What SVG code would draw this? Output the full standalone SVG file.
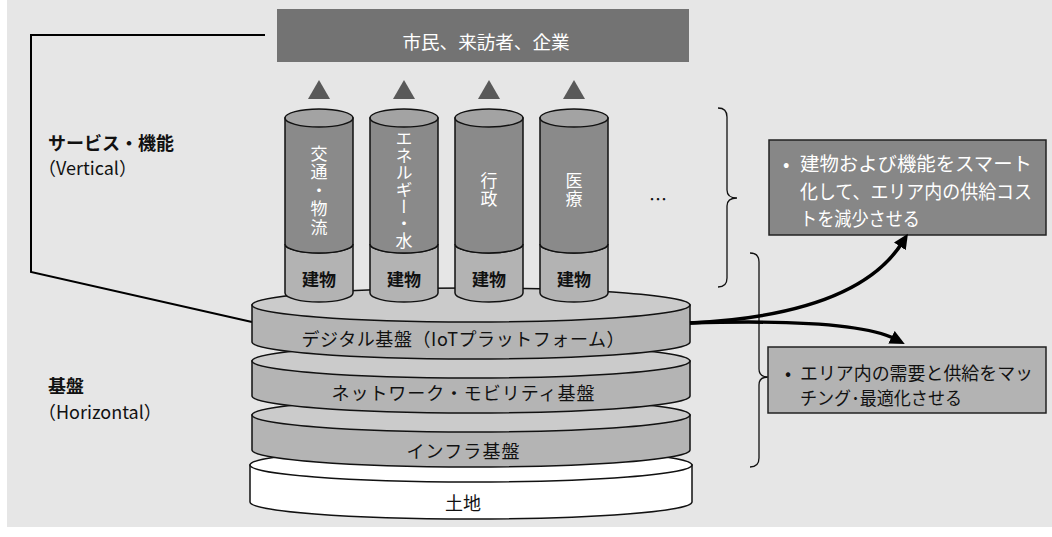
<svg xmlns="http://www.w3.org/2000/svg" width="1052" height="537" viewBox="0 0 1052 537">
<defs>
<style>
text{font-family:"Noto Sans CJK JP","Noto Sans",sans-serif;dominant-baseline:central}
.lbl{font-size:18px;font-weight:bold;fill:#111}
.disk-top{stroke:#111;stroke-width:1.5;fill:#cbcbcb}
.disk-side{stroke:#111;stroke-width:1.5;fill:#b4b4b4}
.land-top{stroke:#111;stroke-width:1.5;fill:#fff}
.land-side{stroke:#111;stroke-width:1.5;fill:#fff}
.disk-txt{font-size:18px;fill:#111;text-anchor:middle}
.cyl-top{fill:#a3a3a3;stroke:#111;stroke-width:1.5}
.cyl-body{fill:#8a8a8a;stroke:#111;stroke-width:1.5}
.cyl-base{fill:#b3b3b3;stroke:#111;stroke-width:1.5}
.vtxt{font-size:17px;fill:#fff;text-anchor:middle;writing-mode:vertical-rl}
.btxt{font-size:17px;font-weight:bold;fill:#111;text-anchor:middle}
.tri{fill:#595959}
.brace{fill:none;stroke:#111;stroke-width:1.3}
.conn{fill:none;stroke:#000;stroke-width:3.5}
</style>
<marker id="ah" markerUnits="userSpaceOnUse" markerWidth="16" markerHeight="14" refX="4" refY="7" orient="auto">
<path d="M0,0 L15,7 L0,14 z" fill="#000"/>
</marker>
</defs>
<rect x="7" y="0" width="1045" height="527" fill="#e6e6e6"/>

<g id="left-line">
<polyline points="265,35 31,35 31,272 252,322" fill="none" stroke="#000" stroke-width="2"/>
</g>

<g id="label-vertical">
<text class="lbl" x="48" y="142">サービス・機能</text>
<text x="38" y="167" font-size="18" fill="#111">（Vertical）</text>
</g>
<g id="label-horizontal">
<text class="lbl" x="48" y="385">基盤</text>
<text x="38" y="411" font-size="18" fill="#111">（Horizontal）</text>
</g>

<g id="users">
<rect x="277" y="9" width="412" height="53" fill="#737373"/>
<text x="486" y="41" font-size="18" fill="#fff" text-anchor="middle" textLength="167" lengthAdjust="spacingAndGlyphs">市民、来訪者、企業</text>
</g>

<g id="triangles">
<polygon class="tri" points="308,99 330,99 319,80"/>
<polygon class="tri" points="393,99 415,99 404,80"/>
<polygon class="tri" points="478,99 500,99 489,80"/>
<polygon class="tri" points="563,99 585,99 574,80"/>
</g>

<g id="land">
<path class="land-side" d="M250,465 L250,502 A221,17 0 0 0 692,502 L692,465 Z"/>
<ellipse class="land-top" cx="471" cy="465" rx="221" ry="17"/>
<text class="disk-txt" x="463" y="502">土地</text>
</g>
<g id="infra">
<path class="disk-side" d="M252,415 L252,450 A219,17 0 0 0 690,450 L690,415 Z"/>
<ellipse class="disk-top" cx="471" cy="415" rx="219" ry="17"/>
<text class="disk-txt" x="463" y="450" textLength="113">インフラ基盤</text>
</g>
<g id="network">
<path class="disk-side" d="M252,361 L252,396 A219,17 0 0 0 690,396 L690,361 Z"/>
<ellipse class="disk-top" cx="471" cy="361" rx="219" ry="17"/>
<text class="disk-txt" x="463" y="392" textLength="263">ネットワーク・モビリティ基盤</text>
</g>
<g id="digital">
<path class="disk-side" d="M252,305 L252,342 A219,17 0 0 0 690,342 L690,305 Z"/>
<ellipse class="disk-top" cx="471" cy="305" rx="219" ry="17"/>
<text class="disk-txt" x="463" y="338" textLength="323">デジタル基盤（IoTプラットフォーム）</text>
</g>

<g id="cyl-transport">
<path class="cyl-base" d="M285,244 A34,9 0 0 0 353,244 L353,293 A34,9 0 0 1 285,293 Z"/>
<path class="cyl-body" d="M285,118 L285,244 A34,9 0 0 0 353,244 L353,118 Z"/>
<ellipse class="cyl-top" cx="319" cy="118" rx="34" ry="9"/>
<text class="vtxt" x="319" y="191" letter-spacing="1.5">交通・物流</text>
<text class="btxt" x="319" y="278">建物</text>
</g>
<g id="cyl-energy">
<path class="cyl-base" d="M370,244 A34,9 0 0 0 438,244 L438,293 A34,9 0 0 1 370,293 Z"/>
<path class="cyl-body" d="M370,118 L370,244 A34,9 0 0 0 438,244 L438,118 Z"/>
<ellipse class="cyl-top" cx="404" cy="118" rx="34" ry="9"/>
<text class="vtxt" x="404" y="190">エネルギー・水</text>
<text class="btxt" x="404" y="278">建物</text>
</g>
<g id="cyl-admin">
<path class="cyl-base" d="M455,244 A34,9 0 0 0 523,244 L523,293 A34,9 0 0 1 455,293 Z"/>
<path class="cyl-body" d="M455,118 L455,244 A34,9 0 0 0 523,244 L523,118 Z"/>
<ellipse class="cyl-top" cx="489" cy="118" rx="34" ry="9"/>
<text class="vtxt" x="489" y="190" letter-spacing="1">行政</text>
<text class="btxt" x="489" y="278">建物</text>
</g>
<g id="cyl-medical">
<path class="cyl-base" d="M540,244 A34,9 0 0 0 608,244 L608,293 A34,9 0 0 1 540,293 Z"/>
<path class="cyl-body" d="M540,118 L540,244 A34,9 0 0 0 608,244 L608,118 Z"/>
<ellipse class="cyl-top" cx="574" cy="118" rx="34" ry="9"/>
<text class="vtxt" x="574" y="190" letter-spacing="1">医療</text>
<text class="btxt" x="574" y="278">建物</text>
</g>
<g id="ellipsis">
<text x="658" y="198" font-size="18" fill="#111" text-anchor="middle">…</text>
</g>

<g id="braces">
<path class="brace" d="M718,108 Q727,108 727,117 L727,190 Q727,198 737,198 Q727,198 727,206 L727,278 Q727,287 718,287"/>
<path class="brace" d="M750,253 Q759,253 759,262 L759,369 Q759,377 768,377 Q759,377 759,385 L759,458 Q759,467 750,467"/>
</g>

<g id="box-smart">
<rect x="769" y="140" width="277" height="95" fill="#878787" stroke="#222" stroke-width="1.5"/>
<text font-size="19" fill="#fff"><tspan x="783" y="162">•</tspan></text>
<text font-size="19" fill="#fff" x="800" y="162" textLength="232" lengthAdjust="spacingAndGlyphs">建物および機能をスマート</text>
<text font-size="19" fill="#fff" x="800" y="190" textLength="232" lengthAdjust="spacingAndGlyphs">化して、エリア内の供給コス</text>
<text font-size="19" fill="#fff" x="800" y="217" textLength="120" lengthAdjust="spacingAndGlyphs">トを減少させる</text>
</g>
<g id="box-match">
<rect x="768" y="347" width="278" height="66" fill="#b3b3b3" stroke="#222" stroke-width="1.5"/>
<text font-size="18" fill="#111"><tspan x="785" y="372">•</tspan></text>
<text font-size="18" fill="#111" x="800" y="372" textLength="233" lengthAdjust="spacingAndGlyphs">エリア内の需要と供給をマッ</text>
<text font-size="18" fill="#111" x="800" y="397" textLength="162" lengthAdjust="spacingAndGlyphs">チング･最適化させる</text>
</g>

<g id="connectors">
<path class="conn" d="M690,323 C790,318 868,296 902,243" marker-end="url(#ah)"/>
<path class="conn" d="M690,323 C790,320 866,324 895,339" marker-end="url(#ah)"/>
</g>
</svg>
